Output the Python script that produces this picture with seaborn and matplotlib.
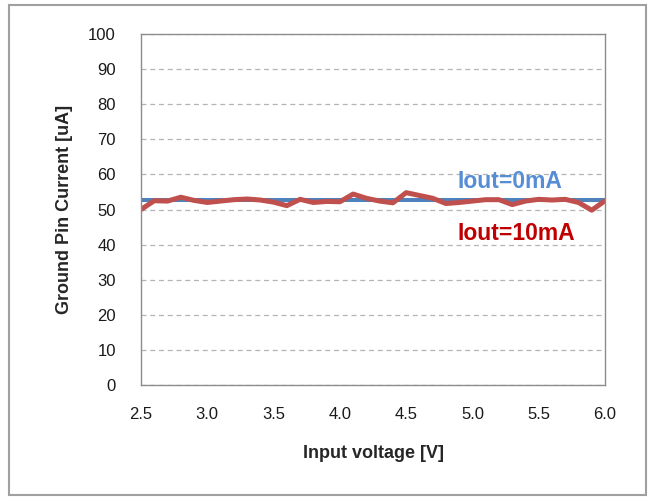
import numpy as np
import pandas as pd
import matplotlib
matplotlib.use("Agg")
import matplotlib.pyplot as plt
import seaborn as sns
from matplotlib.patches import Rectangle

# Datos
voltaje = [2.5, 2.6, 2.7, 2.8, 2.9, 3.0, 3.1, 3.2, 3.3, 3.4, 3.5, 3.6,
           3.7, 3.8, 3.9, 4.0, 4.1, 4.2, 4.3, 4.4, 4.5, 4.6, 4.7, 4.8,
           4.9, 5.0, 5.1, 5.2, 5.3, 5.4, 5.5, 5.6, 5.7, 5.8, 5.9, 6.0]
iout_0mA = [52.7, 52.7, 52.7, 52.7, 52.7, 52.7, 52.7, 52.7, 52.7, 52.7, 52.7, 52.7,
            52.7, 52.7, 52.7, 52.7, 52.7, 52.7, 52.7, 52.7, 52.7, 52.7, 52.7, 52.7,
            52.7, 52.7, 52.7, 52.7, 52.7, 52.7, 52.7, 52.7, 52.7, 52.7, 52.7, 52.7]
iout_10mA = [50.0, 52.5, 52.4, 53.5, 52.6, 52.0, 52.4, 52.8, 53.0, 52.7, 52.1, 51.1,
             52.9, 52.0, 52.3, 52.2, 54.4, 53.2, 52.4, 51.9, 54.8, 54.0, 53.2, 51.7,
             52.0, 52.4, 52.8, 52.8, 51.4, 52.4, 52.9, 52.7, 52.9, 52.0, 49.8, 52.5]
etiquetas = ["Iout=0mA", "Iout=10mA"]
xticks = [2.5, 3.0, 3.5, 4.0, 4.5, 5.0, 5.5, 6.0]

df = pd.DataFrame({"voltaje": voltaje, "i0": iout_0mA, "i10": iout_10mA})

sns.set_style("white")
plt.rcParams["font.family"] = ["Liberation Sans", "DejaVu Sans"]

fig = plt.figure(figsize=(6.61, 4.98), dpi=100)
ax = fig.add_axes([0.2133, 0.2269, 0.702, 0.7048])

azul = "#4F81BD"
rojo = "#C0504D"

sns.lineplot(data=df, x="voltaje", y="i0", ax=ax, color=azul, linewidth=2.9)
sns.lineplot(data=df, x="voltaje", y="i10", ax=ax, color=rojo, linewidth=3.6)

ax.set_xlim(2.5, 6.0)
ax.set_ylim(0, 100)
ax.set_xticks(xticks)
ax.set_xticklabels([f"{v:.1f}" for v in xticks])
ax.set_yticks(range(0, 101, 10))
ax.yaxis.grid(True, linestyle=(0, (4, 3)), color="#b4b4b4", linewidth=0.9)
ax.set_axisbelow(True)
for s in ax.spines.values():
    s.set_color("#8c8c8c")
    s.set_linewidth(1.0)
ax.tick_params(axis="x", length=0, labelsize=12, colors="#1a1a1a", pad=15.5)
ax.tick_params(axis="y", length=0, labelsize=12, colors="#1a1a1a", pad=18)

ax.set_xlabel("Input voltage [V]", fontsize=13, fontweight="bold")
ax.set_ylabel("Ground Pin Current [uA]", fontsize=13, fontweight="bold")
ax.xaxis.set_label_coords(0.5, -0.172)
ax.yaxis.set_label_coords(-0.146, 0.5)

ax.text(4.89, 56.1, etiquetas[0], color="#558ED5", fontsize=16.5, fontweight="bold", va="baseline")
ax.text(4.89, 41.3, etiquetas[1], color="#C00000", fontsize=16.5, fontweight="bold", va="baseline")

# Marco exterior
fig.patches.append(Rectangle((0.013, 0.006), 0.965, 0.984, transform=fig.transFigure,
                             fill=False, edgecolor="#a0a0a0", linewidth=1.5))

fig.savefig("out.png", dpi=100)
